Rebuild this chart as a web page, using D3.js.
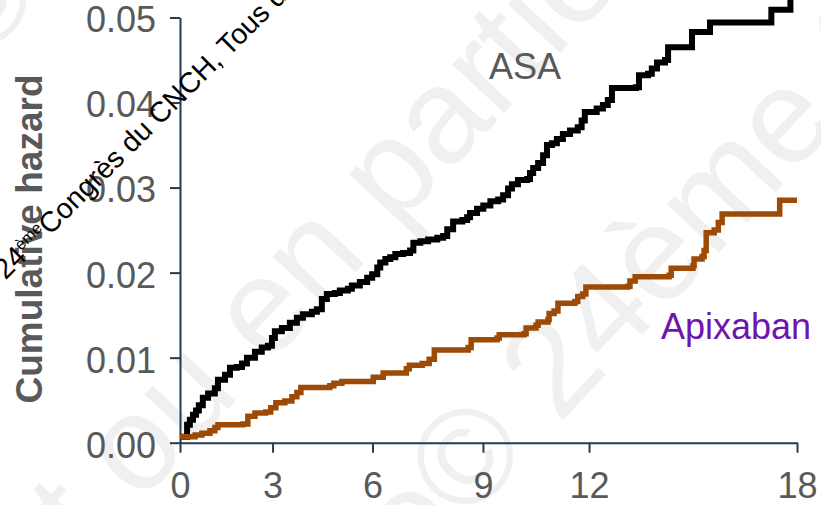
<!DOCTYPE html>
<html><head><meta charset="utf-8">
<script src="https://cdn.jsdelivr.net/npm/d3@7"></script>
<style>
html,body{margin:0;padding:0;background:#fff;}
svg{display:block;font-family:"Liberation Sans",Arial,sans-serif;}
</style></head><body>
<svg id="chart" width="821" height="505"></svg>
<script>
// Axis ticks
const monthTicks = [0, 3, 6, 9, 12, 18];
const hazardTicks = [0, 0.01, 0.02, 0.03, 0.04, 0.05];

// Cumulative hazard step curves (month of step, hazard after step)
const asaMonths = [0, 0.23, 0.32, 0.42, 0.52, 0.61, 0.74, 0.91, 1.13, 1.23, 1.46, 1.62, 1.84, 2.01, 2.17, 2.43, 2.65, 2.85, 2.98, 3.07,
  3.28, 3.52, 3.73, 3.91, 4.18, 4.33, 4.48, 4.63, 4.87, 5.02, 5.26, 5.38, 5.62, 5.84, 5.99, 6.13, 6.21, 6.35, 6.48, 6.62,
  6.83, 7.02, 7.11, 7.30, 7.51, 7.76, 7.92, 8.03, 8.19, 8.44, 8.57, 8.65, 8.84, 9.01, 9.21, 9.43, 9.57, 9.71, 9.82, 9.99,
  10.25, 10.33, 10.42, 10.56, 10.70, 10.81, 10.95, 11.09, 11.26, 11.46, 11.68, 11.79, 11.88, 12.22, 12.40, 12.54, 12.66, 13.35, 13.44, 13.70,
  13.81, 13.96, 14.19, 14.28, 14.97, 15.49, 17.26, 17.81];
const asaHazard = [0.0007, 0.0021, 0.0027, 0.0033, 0.0038, 0.0044, 0.0053, 0.0058, 0.0064, 0.0074, 0.0080, 0.0088, 0.0089, 0.0093, 0.0100, 0.0107, 0.0112, 0.0114, 0.0123, 0.0131,
  0.0135, 0.0141, 0.0147, 0.0151, 0.0154, 0.0157, 0.0169, 0.0175, 0.0176, 0.0179, 0.0181, 0.0185, 0.0189, 0.0194, 0.0198, 0.0206, 0.0212, 0.0216, 0.0218, 0.0222,
  0.0223, 0.0226, 0.0235, 0.0237, 0.0239, 0.0241, 0.0243, 0.0251, 0.0260, 0.0262, 0.0265, 0.0270, 0.0275, 0.0279, 0.0284, 0.0286, 0.0291, 0.0299, 0.0304, 0.0309,
  0.0310, 0.0317, 0.0323, 0.0329, 0.0338, 0.0350, 0.0352, 0.0357, 0.0363, 0.0367, 0.0371, 0.0379, 0.0389, 0.0393, 0.0397, 0.0403, 0.0417, 0.0418, 0.0432, 0.0434,
  0.0440, 0.0447, 0.0450, 0.0465, 0.0483, 0.0494, 0.0509, 0.0525];

const apixMonths = [0, 0.49, 0.71, 0.97, 1.13, 1.23, 2.04, 2.20, 2.43, 2.78, 2.94, 3.10, 3.37, 3.58, 3.73, 3.85, 4.72, 4.84, 5.08, 6.02,
  6.29, 6.92, 7.00, 7.35, 7.54, 7.68, 8.60, 8.68, 9.40, 9.46, 10.16, 10.22, 10.50, 10.56, 10.84, 10.87, 11.01, 11.12, 11.60, 11.68,
  11.82, 11.91, 13.12, 13.18, 13.33, 14.31, 14.37, 15.00, 15.03, 15.26, 15.32, 15.38, 15.61, 15.73, 15.84, 17.50, 18.0];
const apixHazard = [0.0007, 0.0009, 0.0011, 0.0014, 0.0018, 0.0021, 0.0022, 0.0031, 0.0035, 0.0036, 0.0041, 0.0047, 0.0049, 0.0054, 0.0059, 0.0065, 0.0067, 0.0070, 0.0072, 0.0077,
  0.0082, 0.0087, 0.0091, 0.0093, 0.0098, 0.0109, 0.0112, 0.0121, 0.0123, 0.0127, 0.0128, 0.0135, 0.0138, 0.0142, 0.0145, 0.0152, 0.0155, 0.0164, 0.0166, 0.0172,
  0.0175, 0.0183, 0.0184, 0.0190, 0.0195, 0.0197, 0.0205, 0.0208, 0.0216, 0.0219, 0.0226, 0.0247, 0.0250, 0.0259, 0.0269, 0.0285, 0.0285];

const seriesNames = ["ASA", "Apixaban"];
const yTitle = "Cumulative hazard";

const W = 821, H = 505;
const margin = {top: 17.5, right: 24, bottom: 62.3, left: 180};
const iw = W - margin.left - margin.right;
const ih = H - margin.top - margin.bottom;

// the month axis uses unequal spacing between its ticks
const tickStops = [0, 0.150, 0.312, 0.491, 0.663, 1];
const x = d3.scaleLinear().domain(monthTicks).range(tickStops.map(f => f * iw));
const y = d3.scaleLinear().domain([0, 0.05]).range([ih, 0]);

const svg = d3.select("#chart");
svg.append("rect").attr("width", W).attr("height", H).attr("fill", "#fff");

// faint background watermark
const wm = svg.append("g").attr("fill", "#f0f0f0").attr("font-size", 135);
function wmRow(px, py, left, right) {
  const r = wm.append("g").attr("transform", `translate(${px},${py}) rotate(-47)`);
  r.append("text").attr("text-anchor", "end").attr("dy", "0.3em").text(left);
  r.append("text").attr("text-anchor", "start").attr("dy", "0.3em").text(right);
}
wmRow(596, -45, "Reproduction interdite en tout ou en partie ", "© 24ème Congrès du CNCH");
wmRow(436, 497, "Reproduction interdite en tout ou en partie ", "© 24ème Congrès du CNCH");
wm.append("text").attr("transform", "translate(-22,-2) rotate(-47)")
  .attr("text-anchor", "middle").attr("dy", "0.35em").text("©");

const g = svg.append("g").attr("transform", `translate(${margin.left},${margin.top})`);

const axisColor = "#243a56";
const labelColor = "#595959";

const xAxis = g.append("g").attr("transform", `translate(0,${ih})`)
  .call(d3.axisBottom(x).tickValues(monthTicks).tickFormat(d3.format("d"))
    .tickSize(10).tickSizeOuter(0).tickPadding(20));
const yAxis = g.append("g")
  .call(d3.axisLeft(y).tickValues(hazardTicks).tickFormat(d3.format(".2f"))
    .tickSize(10).tickSizeOuter(0).tickPadding(14));

[xAxis, yAxis].forEach(a => {
  a.selectAll(".domain").attr("stroke", axisColor).attr("stroke-width", 2);
  a.selectAll(".tick line").attr("stroke", axisColor).attr("stroke-width", 2);
  a.selectAll(".tick text").attr("fill", labelColor).attr("font-size", 36)
    .attr("font-family", '"Liberation Sans", Arial, sans-serif');
});
yAxis.selectAll(".tick text").attr("dy", "0.4em");

// y title
svg.append("text")
  .attr("transform", `translate(42,239) rotate(-90)`)
  .attr("text-anchor", "middle")
  .attr("font-size", 37).attr("font-weight", "bold").attr("fill", labelColor)
  .text(yTitle);

const line = d3.line().x(d => x(d.t)).y(d => y(d.v)).curve(d3.curveStepAfter);
const asa = asaMonths.map((t, i) => ({t, v: asaHazard[i]}));
const apix = apixMonths.map((t, i) => ({t, v: apixHazard[i]}));

g.append("path").datum(asa).attr("d", line)
  .attr("fill", "none").attr("stroke", "#000").attr("stroke-width", 6);
g.append("path").datum(apix).attr("d", line)
  .attr("fill", "none").attr("stroke", "#9c4a06").attr("stroke-width", 5.5);

// series labels
svg.append("text").attr("x", 489).attr("y", 79).attr("font-size", 36)
  .attr("fill", labelColor).text(seriesNames[0]);
svg.append("text").attr("x", 661).attr("y", 339).attr("font-size", 36)
  .attr("fill", "#7014b0").text(seriesNames[1]);

// congress credit line
const credit = svg.append("g").attr("transform", "translate(50,236) rotate(-45)")
  .attr("font-size", 28.5).attr("fill", "#000");
credit.append("text").attr("text-anchor", "start").text("Congrès du CNCH, Tous droits réservés");
const lead = credit.append("text").attr("text-anchor", "end");
lead.append("tspan").text("24");
lead.append("tspan").attr("font-size", 16).attr("dy", -10).text("ème");
</script>
</body></html>
